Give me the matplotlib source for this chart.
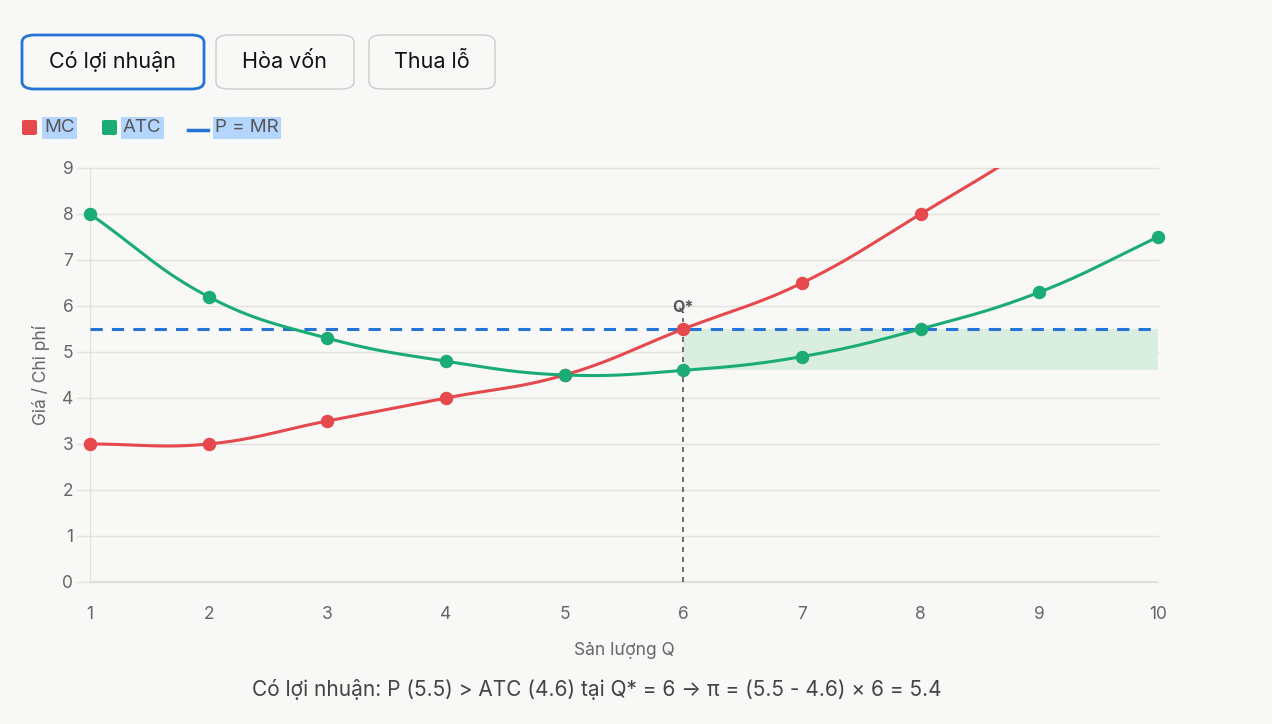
import matplotlib
matplotlib.use('Agg')
import matplotlib.pyplot as plt
import numpy as np
from matplotlib.patches import FancyBboxPatch

plt.rcParams['font.family'] = ['Inter', 'DejaVu Sans']

# data
q = [1, 2, 3, 4, 5, 6, 7, 8, 9, 10]
mc = [3, 3, 3.5, 4, 4.5, 5.5, 6.5, 8, 9.6, 11.5]
atc = [8, 6.2, 5.3, 4.8, 4.5, 4.6, 4.9, 5.5, 6.3, 7.5]
price = 5.5
q_star = 6
atc_star = 4.6
buttons = ['Có lợi nhuận', 'Hòa vốn', 'Thua lỗ']
summary = 'Có lợi nhuận: P (5.5) > ATC (4.6) tại Q* = 6 → π = (5.5 - 4.6) × 6 = 5.4'

RED = '#e5484d'
GREEN = '#1bab74'
BLUE = '#2474d6'
BG = '#f8f8f6'

W, H = 1272, 724
fig = plt.figure(figsize=(W / 100, H / 100), dpi=100, facecolor=BG)

def fx(px):
  return px / W

def fy(py):
  return 1 - py / H

ax = fig.add_axes([fx(90), fy(582), fx(1158) - fx(90), fy(168) - fy(582)])
ax.set_facecolor(BG)
ax.set_xlim(1, 10)
ax.set_ylim(0, 9)

# pixel scale for spline distances
sx = (1158 - 90) / 9
sy = (582 - 168) / 9

def spline(xs, ys, t=0.4, n=30):
  '''bezier smoothing like chart.js tension'''
  px = np.array(xs) * sx
  py = np.array(ys) * sy
  out_x, out_y = [], []
  m = len(px)
  ctrl = []
  for i in range(m):
    pi = max(i - 1, 0)
    ni = min(i + 1, m - 1)
    d01 = np.hypot(px[i] - px[pi], py[i] - py[pi])
    d12 = np.hypot(px[ni] - px[i], py[ni] - py[i])
    tot = d01 + d12
    s01 = d01 / tot if tot else 0
    s12 = d12 / tot if tot else 0
    fa, fb = t * s01, t * s12
    dx, dy = px[ni] - px[pi], py[ni] - py[pi]
    ctrl.append(((px[i] - fa * dx, py[i] - fa * dy), (px[i] + fb * dx, py[i] + fb * dy)))
  s = np.linspace(0, 1, n)
  for i in range(m - 1):
    p0 = np.array([px[i], py[i]])
    p1 = np.array(ctrl[i][1])
    p2 = np.array(ctrl[i + 1][0])
    p3 = np.array([px[i + 1], py[i + 1]])
    pts = ((1 - s) ** 3)[:, None] * p0 + (3 * (1 - s) ** 2 * s)[:, None] * p1 \
      + (3 * (1 - s) * s ** 2)[:, None] * p2 + (s ** 3)[:, None] * p3
    out_x.extend(pts[:, 0] / sx)
    out_y.extend(pts[:, 1] / sy)
  return out_x, out_y

# grid
for v in range(10):
  ax.plot([0.89, 10], [v, v], color='#e2e2dc', lw=1, clip_on=False, zorder=0)
ax.plot([1, 1], [0, 9], color='#e2e2dc', lw=1, zorder=0)
for s in ax.spines.values():
  s.set_visible(False)
ax.plot([1, 10], [0, 0], color='#d8d8d2', lw=1.2, zorder=0)

# profit area
ax.fill_between([q_star, 10], atc_star, price, color='#d9eee0', lw=0, zorder=1)

# curves
x1, y1 = spline(q, mc)
ax.plot(x1, y1, color=RED, lw=2.2, zorder=4)
vis = [(a, b) for a, b in zip(q, mc) if b <= 9]
ax.scatter([a for a, b in vis], [b for a, b in vis], s=75, color=RED, zorder=5, clip_on=False)
x2, y2 = spline(q, atc)
ax.plot(x2, y2, color=GREEN, lw=2.2, zorder=4)
ax.scatter(q, atc, s=75, color=GREEN, zorder=5, clip_on=False)

ax.plot([1, 10], [price, price], color=BLUE, lw=2.2, dashes=(4, 3), zorder=3)
ax.plot([q_star, q_star], [0, 5.75], color='#555555', lw=1.2, dashes=(3, 3), zorder=3)
ax.text(q_star, 5.8, 'Q*', ha='center', va='bottom', fontsize=11.5, fontweight='bold', color='#555555')

ax.set_xticks(q)
ax.set_yticks(range(10))
ax.tick_params(length=0, labelsize=12.5, colors='#666666')
ax.tick_params(axis='x', pad=17)
ax.tick_params(axis='y', pad=12)
ax.set_xlabel('Sản lượng Q', fontsize=12.5, color='#666666', labelpad=14)
ax.set_ylabel('Giá / Chi phí', fontsize=12.5, color='#666666', labelpad=9)

# buttons
bx = [(22, 204), (216, 354), (369, 495)]
for (l, r), label in zip(bx, buttons):
  active = label == buttons[0]
  box = FancyBboxPatch((fx(l), fy(89)), fx(r) - fx(l), fy(35) - fy(89),
    boxstyle='round,pad=0,rounding_size=0.01', transform=fig.transFigure,
    facecolor=BG, edgecolor=BLUE if active else '#cccccc', lw=2 if active else 1)
  fig.patches.append(box)
  fig.text(fx((l + r) / 2), fy(62), label, ha='center', va='center', fontsize=15.5, color='#111111')

# legend
hl = dict(facecolor='#b4d5fe', edgecolor='none', pad=1.5)
for l, c in [(22, RED), (102, GREEN)]:
  fig.patches.append(FancyBboxPatch((fx(l), fy(135)), fx(15), fy(120) - fy(135),
    boxstyle='round,pad=0,rounding_size=0.002', transform=fig.transFigure,
    facecolor=c, edgecolor='none'))
fig.text(fx(44), fy(128), 'MC', ha='left', va='center', fontsize=13.5, color='#555555', bbox=hl)
fig.text(fx(123), fy(128), 'ATC', ha='left', va='center', fontsize=13.5, color='#555555', bbox=hl)
fig.add_artist(plt.Line2D([fx(188), fx(208)], [fy(130), fy(130)], color=BLUE, lw=2.5))
fig.text(fx(215), fy(128), 'P = MR', ha='left', va='center', fontsize=13.5, color='#555555', bbox=hl)

fig.text(fx(597), fy(690), summary, ha='center', va='center', fontsize=15, color='#444444')

fig.savefig('out.png', dpi=100, facecolor=BG)
